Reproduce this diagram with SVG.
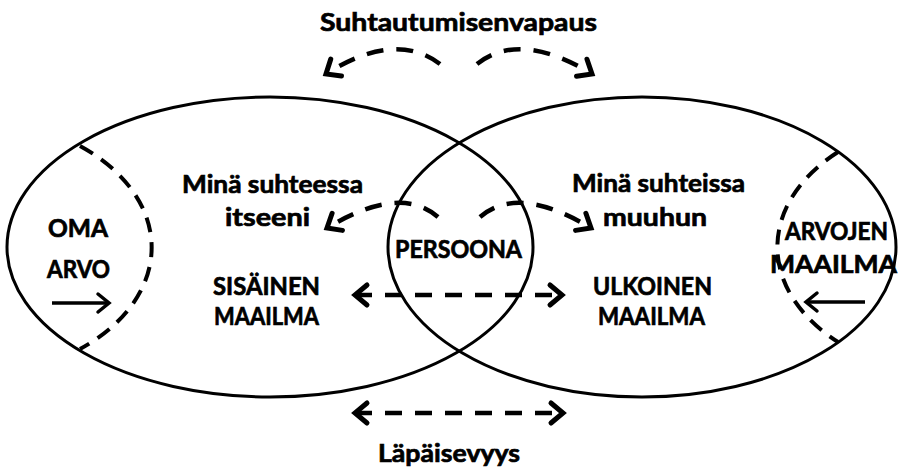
<svg xmlns="http://www.w3.org/2000/svg" width="899" height="472" viewBox="0 0 899 472">
  <style>
    .outline { fill: none; stroke: #000; stroke-width: 3; }
    .dash { fill: none; stroke: #000; stroke-width: 4.5; stroke-dasharray: 17 13; }
    .edge { fill: none; stroke: #000; stroke-width: 4; stroke-dasharray: 15 10; }
    .solid { fill: none; stroke: #000; stroke-width: 3.5; }
    text { font-family: Lato, "Open Sans", "Liberation Sans", sans-serif; font-weight: 700; font-size: 25px; fill: #000; stroke: #000; stroke-width: 0.7; }
  </style>
  <defs>
    <marker id="chev" viewBox="-16 -14 20 28" markerWidth="20" markerHeight="28" refX="0" refY="0" orient="auto-start-reverse" markerUnits="userSpaceOnUse">
      <path d="M-12,-10 L0,0 L-12,10" fill="none" stroke="#000" stroke-width="5" stroke-dasharray="none" stroke-linecap="round" stroke-linejoin="miter"/>
    </marker>
    <marker id="chevThin" viewBox="-14 -12 18 24" markerWidth="18" markerHeight="24" refX="0" refY="0" orient="auto" markerUnits="userSpaceOnUse">
      <path d="M-11,-9 L0,0 L-11,9" fill="none" stroke="#000" stroke-width="3.5" stroke-linecap="round"/>
    </marker>
  </defs>

  <!-- inner world -->
  <g id="inner-world">
    <ellipse class="outline" cx="270" cy="247" rx="263" ry="150"/>
    <text x="182" y="193" textLength="181" lengthAdjust="spacingAndGlyphs">Minä suhteessa</text>
    <text x="225" y="226" textLength="85" lengthAdjust="spacingAndGlyphs">itseeni</text>
    <text x="213" y="295" textLength="107" lengthAdjust="spacingAndGlyphs">SISÄINEN</text>
    <text x="214" y="325" textLength="105" lengthAdjust="spacingAndGlyphs">MAAILMA</text>
  </g>

  <!-- outer world -->
  <g id="outer-world">
    <ellipse class="outline" cx="642" cy="247" rx="254" ry="150"/>
    <text x="572" y="192" textLength="173" lengthAdjust="spacingAndGlyphs">Minä suhteissa</text>
    <text x="603" y="226" textLength="104" lengthAdjust="spacingAndGlyphs">muuhun</text>
    <text x="593" y="295" textLength="119" lengthAdjust="spacingAndGlyphs">ULKOINEN</text>
    <text x="598" y="325" textLength="107" lengthAdjust="spacingAndGlyphs">MAAILMA</text>
  </g>

  <!-- own value region -->
  <g id="own-value">
    <path class="edge" d="M80,146 A191,130 0 0 1 80,349"/>
    <text x="48" y="237" textLength="60" lengthAdjust="spacingAndGlyphs">OMA</text>
    <text x="47" y="278" textLength="63" lengthAdjust="spacingAndGlyphs">ARVO</text>
  </g>

  <!-- world of values region -->
  <g id="world-of-values">
    <path class="edge" d="M838,152 A191,130 0 0 0 838,342"/>
    <text x="785" y="240" textLength="103" lengthAdjust="spacingAndGlyphs">ARVOJEN</text>
    <text x="770" y="273" textLength="127" lengthAdjust="spacingAndGlyphs">MAAILMA</text>
  </g>

  <!-- persona -->
  <g id="persona">
    <text x="395" y="258" textLength="127" lengthAdjust="spacingAndGlyphs">PERSOONA</text>
  </g>

  <!-- captions -->
  <g id="freedom">
    <text x="320" y="31" textLength="277" lengthAdjust="spacingAndGlyphs">Suhtautumisenvapaus</text>
  </g>
  <g id="permeability">
    <text x="378" y="462" textLength="142" lengthAdjust="spacingAndGlyphs">Läpäisevyys</text>
  </g>

  <!-- connectors -->
  <g id="connectors">
    <path class="dash" d="M440,64 Q395,30 326,74" marker-end="url(#chev)"/>
    <path class="dash" d="M477,64 Q520,30 592,74" marker-end="url(#chev)"/>
    <path class="dash" d="M438,217 Q400,184 327,228" marker-end="url(#chev)"/>
    <path class="dash" d="M480,217 Q518,184 591,228" marker-end="url(#chev)"/>
    <path class="dash" d="M355,295 H562" marker-start="url(#chev)" marker-end="url(#chev)"/>
    <path class="dash" d="M355,413 H563" marker-start="url(#chev)" marker-end="url(#chev)"/>
    <path class="solid" d="M52,303 H109" marker-end="url(#chevThin)"/>
    <path class="solid" d="M865,302 H806" marker-end="url(#chevThin)"/>
  </g>
</svg>
